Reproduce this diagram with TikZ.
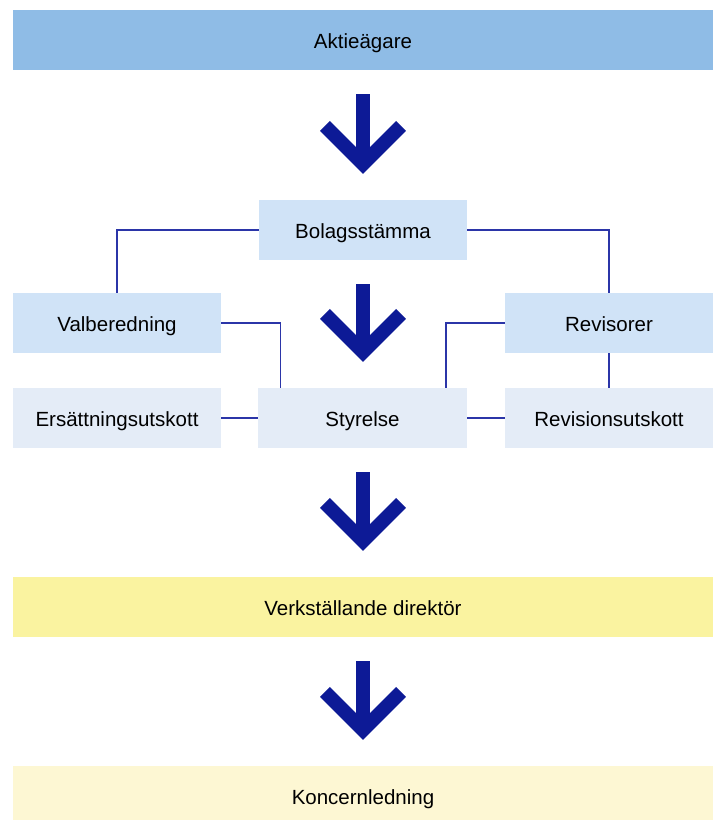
\documentclass[tikz,border=0pt]{standalone}
\usepackage{fontspec}
\setmainfont{Liberation Sans}
\usetikzlibrary{arrows.meta}

\definecolor{topblue}{HTML}{8FBCE6}
\definecolor{midblue}{HTML}{D0E3F7}
\definecolor{paleblue}{HTML}{E4ECF7}
\definecolor{vdyellow}{HTML}{FAF3A0}
\definecolor{paleyellow}{HTML}{FDF7D3}
\definecolor{linkblue}{HTML}{2B35A8}
\definecolor{arrownavy}{HTML}{0D1A96}

\tikzset{
  box/.style={inner sep=0pt, minimum height=60pt, text height=18pt, text depth=2pt,
    align=center, font=\fontsize{20.5}{24}\selectfont},
  widebox/.style={box, minimum width=700pt},
  smallbox/.style={box, minimum width=208pt},
  link/.style={draw=linkblue, line width=1.2pt},
  flow/.style={draw=arrownavy, line width=14pt,
    -{Straight Barb[length=38pt, width=76pt, line cap=butt, line join=miter]},
    shorten <=24pt, shorten >=26pt}
}

\begin{document}
\begin{tikzpicture}[x=1pt, y=-1pt]
    \useasboundingbox (0,0) rectangle (720,820);

    % Top and bottom rows
    \node[widebox, fill=topblue] (aktie) at (363,40) {Aktieägare};
    \node[widebox, fill=vdyellow] (vd) at (363,607) {Verkställande direktör};
    \node[widebox, fill=paleyellow] (koncern) at (363,796) {Koncernledning};

    % Governance boxes
    \node[smallbox, fill=midblue] (bolag) at (363,230) {Bolagsstämma};
    \node[smallbox, fill=midblue] (valb) at (117,323) {Valberedning};
    \node[smallbox, fill=midblue] (revis) at (609,323) {Revisorer};
    \node[smallbox, fill=paleblue] (ersatt) at (117,418) {Ersättningsutskott};
    \node[smallbox, fill=paleblue, minimum width=209pt] (styr) at (362.5,418) {Styrelse};
    \node[smallbox, fill=paleblue] (revut) at (609,418) {Revisionsutskott};

    % Thin links between the boxes
    \draw[link] (bolag.west) -| (valb.north);
    \draw[link] (bolag.east) -| (revis.north);
    \draw[link] (valb.east) -| ([xshift=-82pt]styr.north);
    \draw[link] (revis.west) -| ([xshift=83.5pt]styr.north);
    \draw[link] (ersatt) -- (styr);
    \draw[link] (styr) -- (revut);
    \draw[link] (revis) -- (revut);

    % Big arrows down the chain
    \draw[flow] (aktie.south) -- (bolag.north);
    \draw[flow] (bolag.south) -- (bolag.south |- styr.north);
    \draw[flow] (styr.south -| vd) -- (vd.north);
    \draw[flow] (vd.south) -- (koncern.north);
\end{tikzpicture}
\end{document}
